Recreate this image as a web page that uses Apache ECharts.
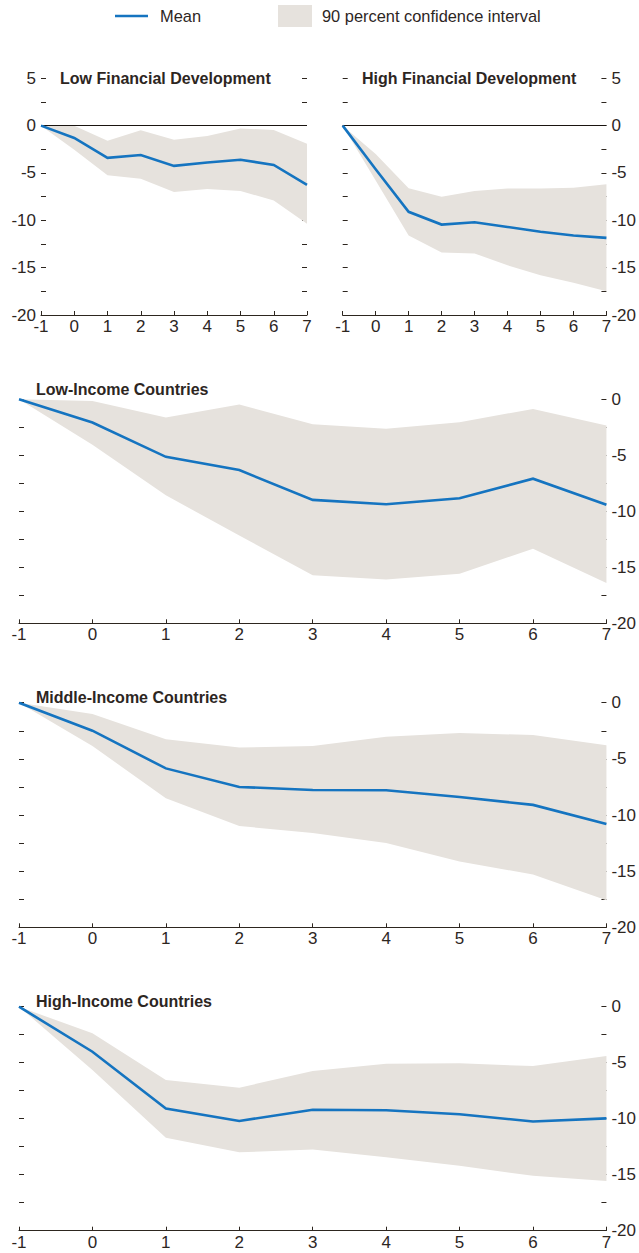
<!DOCTYPE html>
<html>
<head>
<meta charset="utf-8">
<script src="https://cdn.jsdelivr.net/npm/echarts@6/dist/echarts.min.js"></script>
<style>
  html, body { margin: 0; padding: 0; background: #ffffff; }
  #chart { width: 639px; height: 1253px; }
</style>
</head>
<body>
<div id="chart"></div>
<script>
// Horizon (years after the shock) shared by every panel
const steps = [-1, 0, 1, 2, 3, 4, 5, 6, 7];

// Low financial development
const lowFinMean  = [0, -1.3, -3.4, -3.1, -4.25, -3.9, -3.6, -4.15, -6.25];
const lowFinUpper = [0, 0, -1.6, -0.5, -1.5, -1.1, -0.3, -0.45, -1.9];
const lowFinLower = [0, -2.55, -5.25, -5.6, -7.0, -6.7, -6.9, -7.9, -10.35];

// High financial development
const highFinMean  = [0, -4.6, -9.1, -10.45, -10.2, -10.7, -11.2, -11.6, -11.85];
const highFinUpper = [0, -3.0, -6.6, -7.5, -6.9, -6.65, -6.65, -6.55, -6.2];
const highFinLower = [0, -5.8, -11.6, -13.4, -13.5, -14.75, -15.8, -16.6, -17.5];

// Low-income countries
const lowIncMean  = [0, -2.07, -5.14, -6.32, -8.98, -9.37, -8.83, -7.09, -9.42];
const lowIncUpper = [0, -0.15, -1.62, -0.47, -2.22, -2.63, -2.04, -0.86, -2.33];
const lowIncLower = [0, -4.05, -8.57, -12.17, -15.7, -16.1, -15.57, -13.35, -16.4];

// Middle-income countries
const midIncMean  = [0, -2.49, -5.85, -7.5, -7.77, -7.8, -8.4, -9.1, -10.8];
const midIncUpper = [0, -1.0, -3.26, -4.0, -3.86, -3.03, -2.7, -2.88, -3.8];
const midIncLower = [0, -3.86, -8.5, -10.98, -11.6, -12.5, -14.15, -15.3, -17.6];

// High-income countries
const highIncMean  = [0, -4.02, -9.1, -10.2, -9.2, -9.25, -9.6, -10.25, -9.97];
const highIncUpper = [0, -2.38, -6.55, -7.23, -5.74, -5.1, -5.06, -5.3, -4.4];
const highIncLower = [0, -5.65, -11.7, -13.0, -12.74, -13.45, -14.2, -15.1, -15.56];

// Panel titles and legend labels
const panelTitles = [
  'Low Financial Development',
  'High Financial Development',
  'Low-Income Countries',
  'Middle-Income Countries',
  'High-Income Countries'
];
const legendLabels = ['Mean', '90 percent confidence interval'];

// Styling
const BLUE = '#1574c0';
const BAND = '#e6e2dd';
const INK = '#2d261f';
const FONT = '"Liberation Sans", Arial, sans-serif';

const series = [
  { mean: lowFinMean,  upper: lowFinUpper,  lower: lowFinLower },
  { mean: highFinMean, upper: highFinUpper, lower: highFinLower },
  { mean: lowIncMean,  upper: lowIncUpper,  lower: lowIncLower },
  { mean: midIncMean,  upper: midIncUpper,  lower: midIncLower },
  { mean: highIncMean, upper: highIncUpper, lower: highIncLower }
];

// Layout of each panel
const layout = [
  { grid: { left: 41,    top: 78.3,  width: 266,   height: 236.7 }, yMax: 5, labels: 'left',  zero: true,  title: [60, 78] },
  { grid: { left: 342.7, top: 78.3,  width: 264.3, height: 236.7 }, yMax: 5, labels: 'right', zero: true,  title: [362, 78] },
  { grid: { left: 19,    top: 399.3, width: 590,   height: 224 },   yMax: 0, labels: 'right', zero: false, title: [36, 389] },
  { grid: { left: 19,    top: 702.7, width: 590,   height: 224.6 }, yMax: 0, labels: 'right', zero: false, title: [36, 697] },
  { grid: { left: 19,    top: 1006.7, width: 590,  height: 224 },   yMax: 0, labels: 'right', zero: false, title: [36, 1001] }
];

const tickFmt = v => (Math.abs(v % 5) < 1e-9 ? String(v) : '');

const grids = [], xAxes = [], yAxes = [], allSeries = [], graphics = [];

layout.forEach((p, i) => {
  const d = series[i];
  grids.push(Object.assign({ containLabel: false }, p.grid));

  xAxes.push({
    gridIndex: i, type: 'value', min: -1, max: 7, interval: 1, position: 'bottom',
    axisLine: { show: true, onZero: false, lineStyle: { color: INK, width: 1 } },
    axisTick: { show: true, inside: true, length: 4, lineStyle: { color: INK } },
    axisLabel: { color: INK, fontFamily: FONT, fontSize: 17, margin: 3 },
    splitLine: { show: false }
  });

  ['left', 'right'].forEach(side => {
    yAxes.push({
      gridIndex: i, type: 'value', position: side,
      min: -20, max: p.yMax, interval: 2.5,
      axisLine: { show: false, onZero: false },
      axisTick: { show: true, inside: true, length: 5, lineStyle: { color: INK } },
      axisLabel: {
        show: p.labels === side, formatter: tickFmt,
        color: INK, fontFamily: FONT, fontSize: 17, margin: 5
      },
      splitLine: { show: false }
    });
  });

  // Confidence band drawn as one polygon through the axis scales
  const bandData = steps.map((x, k) => [x, d.upper[k], d.lower[k]]);
  allSeries.push({
    type: 'custom', xAxisIndex: i, yAxisIndex: 2 * i,
    data: bandData, encode: { x: 0, y: [1, 2] }, silent: true, z: 1,
    renderItem: (params, api) => {
      if (params.dataIndex !== 0) return;
      const top = bandData.map(r => api.coord([r[0], r[1]]));
      const bottom = bandData.map(r => api.coord([r[0], r[2]])).reverse();
      return { type: 'polygon', shape: { points: top.concat(bottom) }, style: { fill: BAND } };
    }
  });

  const meanSeries = {
    type: 'line', xAxisIndex: i, yAxisIndex: 2 * i,
    data: steps.map((x, k) => [x, d.mean[k]]),
    symbol: 'none', silent: true, z: 3,
    lineStyle: { color: BLUE, width: 2.6, cap: 'butt', join: 'miter' }
  };
  if (p.zero) {
    meanSeries.markLine = {
      silent: true, symbol: 'none', label: { show: false }, z: 2,
      lineStyle: { color: '#1a1410', width: 1, type: 'solid' },
      data: [{ yAxis: 0 }]
    };
  }
  allSeries.push(meanSeries);

  graphics.push({
    type: 'text', x: p.title[0], y: p.title[1], z: 10,
    style: { text: panelTitles[i], fill: INK, font: 'bold 16px ' + FONT, verticalAlign: 'middle' }
  });
});

// Legend row
graphics.push(
  { type: 'line', shape: { x1: 115, y1: 16, x2: 148, y2: 16 }, style: { stroke: BLUE, lineWidth: 2.6 } },
  { type: 'text', x: 160, y: 16, style: { text: legendLabels[0], fill: INK, font: '16.4px ' + FONT, verticalAlign: 'middle' } },
  { type: 'rect', shape: { x: 278, y: 5, width: 34, height: 22 }, style: { fill: BAND } },
  { type: 'text', x: 322, y: 16, style: { text: legendLabels[1], fill: INK, font: '16.4px ' + FONT, verticalAlign: 'middle' } }
);

const chart = echarts.init(document.getElementById('chart'), null, { renderer: 'svg' });
chart.setOption({
  animation: false,
  backgroundColor: '#ffffff',
  grid: grids,
  xAxis: xAxes,
  yAxis: yAxes,
  series: allSeries,
  graphic: graphics
});
</script>
</body>
</html>
